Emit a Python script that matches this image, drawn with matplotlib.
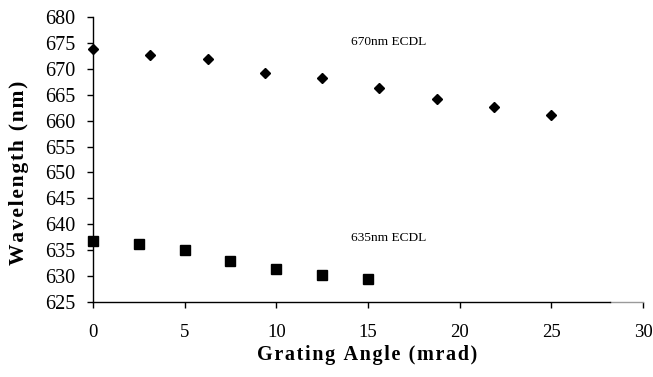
import matplotlib
matplotlib.use("Agg")
import matplotlib.pyplot as plt

# 670nm ECDL
angle_670 = [0, 3.125, 6.25, 9.375, 12.5, 15.625, 18.75, 21.875, 25]
wl_670 = [673.9, 672.6, 671.9, 669.1, 668.2, 666.3, 664.2, 662.6, 661.1]

# 635nm ECDL
angle_635 = [0, 2.5, 5, 7.5, 10, 12.5, 15]
wl_635 = [636.7, 636.1, 635.0, 633.0, 631.3, 630.3, 629.4]

x_ticks = [0, 5, 10, 15, 20, 25, 30]
y_ticks = list(range(625, 681, 5))

plt.rcParams['font.family'] = ['Liberation Serif', 'DejaVu Serif']

def spaced(s):
    # scanned labels are letter-spaced, imitate with hair spaces
    return "\u200a".join(s)

fig = plt.figure(figsize=(6.53, 3.77), dpi=100)
ax = fig.add_axes([0.1424, 0.199, 0.8423, 0.756])

ax.plot(angle_670, wl_670, linestyle='none', marker='D', ms=5.2,
        color='black', clip_on=False)
ax.plot(angle_635, wl_635, linestyle='none', marker='s', ms=6.5,
        color='black', clip_on=False)

ax.text(14.1, 675.2, "670nm ECDL", fontsize=9.6, va='center', ha='left')
ax.text(14.1, 637.3, "635nm ECDL", fontsize=9.6, va='center', ha='left')

ax.set_xlim(0, 30)
ax.set_ylim(625, 680)
ax.set_xticks(x_ticks)
ax.set_yticks(y_ticks)

ax.spines['top'].set_visible(False)
ax.spines['right'].set_visible(False)
ax.spines['left'].set_linewidth(1.0)
ax.spines['bottom'].set_linewidth(1.0)
# right end of the x axis is grey in the original
ax.spines['bottom'].set_bounds(0, 28.2)
ax.plot([28.2, 30], [625, 625], color='#9a9a9a', lw=1.0, clip_on=False)

ax.tick_params(axis='both', direction='out', length=4.2, width=1)
ax.tick_params(axis='x', pad=12, labelsize=13.5)
ax.tick_params(axis='y', pad=8.5, labelsize=14.5)

ax.set_xlabel(spaced("Grating Angle (mrad)"), fontsize=14.5,
              fontweight='bold', va='center')
ax.set_ylabel(spaced("Wavelength (nm)"), fontsize=15.5,
              fontweight='bold', va='center')
ax.xaxis.set_label_coords(0.498, -0.186)
ax.yaxis.set_label_coords(-0.1345, 0.4526)

fig.savefig("out.png", dpi=100)
